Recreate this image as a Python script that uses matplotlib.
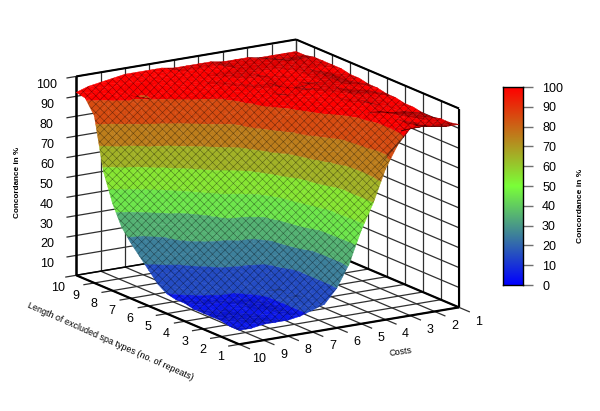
import numpy as np
import matplotlib
matplotlib.use('Agg')
import matplotlib.pyplot as plt
from matplotlib.colors import LinearSegmentedColormap
from mpl_toolkits.mplot3d import proj3d
from mpl_toolkits.mplot3d.art3d import Poly3DCollection

plt.rcParams['font.family'] = ['Liberation Sans', 'DejaVu Sans']
plt.rcParams['hatch.linewidth'] = 0.4

length_ticks = [1, 2, 3, 4, 5, 6, 7, 8, 9, 10]
cost_ticks = [1, 2, 3, 4, 5, 6, 7, 8, 9, 10]
z_ticks = [10, 20, 30, 40, 50, 60, 70, 80, 90, 100]
bar_ticks = [0, 10, 20, 30, 40, 50, 60, 70, 80, 90, 100]

# rows are costs 10 -> 1, columns are length 10 -> 1, half steps
length_vals = [10, 9.5, 9, 8.5, 8, 7.5, 7, 6.5, 6, 5.5, 5, 4.5, 4, 3.5, 3, 2.5, 2, 1.5, 1]
cost_vals = [10, 9.5, 9, 8.5, 8, 7.5, 7, 6.5, 6, 5.5, 5, 4.5, 4, 3.5, 3, 2.5, 2, 1.5, 1]
concordance = [
    [92, 91, 84, 58, 44, 34, 28, 23, 18, 13, 10, 9, 9, 8, 8, 8, 8, 7, 7],
    [94, 93, 88, 74, 52, 38, 30, 25, 21, 17, 12, 10, 9, 9, 8, 8, 8, 8, 7],
    [95, 94, 92, 83, 59, 46, 35, 28, 23, 19, 15, 11, 9, 9, 8, 8, 8, 8, 8],
    [96, 95, 91, 88, 76, 54, 42, 36, 32, 26, 18, 13, 10, 9, 9, 9, 8, 8, 8],
    [97, 95, 89, 90, 82, 65, 52, 38, 34, 30, 23, 17, 10, 9, 9, 9, 9, 9, 8],
    [97, 96, 95, 93, 87, 76, 61, 51, 39, 32, 25, 19, 13, 10, 9, 9, 9, 9, 9],
    [97, 96, 95, 94, 91, 83, 70, 60, 50, 42, 27, 20, 15, 11, 11, 11, 11, 11, 11],
    [97, 96, 95, 94, 92, 88, 79, 67, 55, 45, 28, 22, 16, 11, 12, 12, 13, 13, 13],
    [96, 96, 95, 94, 93, 90, 84, 74, 63, 52, 38, 30, 26, 21, 19, 19, 19, 19, 20],
    [96, 96, 95, 94, 94, 93, 92, 89, 81, 68, 58, 49, 45, 40, 30, 29, 29, 29, 31],
    [96, 96, 95, 95, 94, 94, 93, 92, 91, 87, 70, 63, 58, 54, 50, 49, 48, 47, 47],
    [96, 96, 95, 95, 95, 94, 94, 93, 92, 91, 89, 80, 74, 68, 62, 60, 60, 60, 60],
    [95, 95, 95, 95, 95, 94, 94, 92, 93, 93, 92, 90, 82, 75, 73, 72, 72, 73, 76],
    [95, 95, 95, 95, 94, 93, 92, 94, 95, 94, 93, 92, 90, 87, 85, 84, 81, 81, 87],
    [95, 95, 95, 95, 94, 94, 94, 95, 95, 95, 94, 94, 93, 92, 91, 90, 90, 91, 94],
    [94, 95, 95, 95, 95, 95, 95, 95, 95, 95, 95, 94, 94, 92, 93, 92, 92, 93, 94],
    [94, 94, 95, 95, 95, 95, 95, 95, 95, 94, 94, 93, 92, 90, 92, 92, 91, 91, 93],
    [94, 94, 95, 95, 95, 94, 94, 94, 94, 93, 93, 92, 91, 90, 91, 91, 91, 91, 92],
    [94, 94, 95, 95, 95, 95, 94, 94, 93, 93, 92, 92, 91, 91, 90, 90, 91, 91, 92],
]

W, H = 600, 411
ELEV, AZIM = 15.47, 147.8
BOX = (306, 260, 206.5)

cmap = LinearSegmentedColormap.from_list('conc', [(0, 0, 1), (0.48, 1, 0.22), (1, 0, 0)])
levels = np.arange(0, 101, 10)
band_mid = [5, 15, 25, 35, 45, 55, 65, 75, 85, 100]


def clip_poly(poly, lo, hi):
    # cut one flat polygon down to the part between two heights
    for level, sign in ((lo, 1), (hi, -1)):
        out = []
        for i in range(len(poly)):
            a, b = poly[i], poly[(i + 1) % len(poly)]
            da, db = sign * (a[2] - level), sign * (b[2] - level)
            if da >= 0:
                out.append(a)
            if da * db < 0:
                out.append(a + (b - a) * da / (da - db))
        poly = out
        if len(poly) < 3:
            return []
    return poly


def face_shade(tri):
    # flat and back-tilted faces have denser mesh in the original, so darker
    scale = np.array([BOX[0] / 9, BOX[1] / 9, BOX[2] / 100])
    p = tri * scale
    n = np.cross(p[1] - p[0], p[2] - p[0])
    n = n / np.linalg.norm(n)
    if n[2] < 0:
        n = -n
    el, az = np.radians(ELEV), np.radians(AZIM)
    view = np.array([np.cos(az) * np.cos(el), np.sin(az) * np.cos(el), np.sin(el)])
    return np.clip(0.35 + 0.65 * n.dot(view) / 0.32, 0.4, 1.0)


fig = plt.figure(figsize=(W / 100, H / 100), dpi=100)
# square box centred on the middle of the cube
ax = fig.add_axes([-40.5 / W, -89 / H, 600 / W, 600 / H], projection='3d',
                  proj_type='ortho', computed_zorder=False)
ax.view_init(elev=ELEV, azim=AZIM)
ax.set_box_aspect(BOX, zoom=0.73)
ax.set_xlim(1, 10)
ax.set_ylim(1, 10)
ax.set_zlim(0, 100)
ax.set_axis_off()


def line(xs, ys, zs, lw=0.9, color='#303030', zorder=1):
    ax.plot(xs, ys, zs, color=color, lw=lw, zorder=zorder, solid_capstyle='butt')


def label(x, y, z, s):
    px, py, _ = proj3d.proj_transform(x, y, z, ax.get_proj())
    ax.text2D(px, py, s, transform=ax.transData, fontsize=9, ha='center', va='center', zorder=6)


# back walls and floor
for z in z_ticks:
    line([10, 10], [10.4, 1], [z, z])
    line([10, 1], [1, 1], [z, z])
for c in cost_ticks:
    line([10, 10], [c, c], [0, 100])
    line([10, 0.4], [c, c], [0, 0])
for l in length_ticks:
    line([l, l], [1, 1], [0, 100])
    line([l, l], [1, 10.45], [0, 0])
line([10, 10], [10, 10], [0, 100], lw=1.8, color='black')
line([1, 1], [1, 1], [0, 100], lw=1.5, color='black')
line([10, 10], [10, 1], [100, 100], lw=1.5, color='black')
line([10, 1], [1, 1], [100, 100], lw=1.5, color='black')
line([10, 1], [10, 10], [0, 0], lw=1.6, color='black')
line([1, 1], [10, 1], [0, 0], lw=1.6, color='black')
line([10, 1], [1, 1], [0, 0], lw=1.6, color='black')
line([10, 10], [10, 1], [0, 0], lw=1.1, color='black')

# surface, one colour per 10 % band
polys, cols = [], []
Z = np.array(concordance, dtype=float)
for i in range(len(cost_vals) - 1):
    for j in range(len(length_vals) - 1):
        p = [np.array([length_vals[j + a], cost_vals[i + b], Z[i + b, j + a]])
             for a, b in ((0, 0), (1, 0), (1, 1), (0, 1))]
        for tri in ((p[0], p[1], p[2]), (p[0], p[2], p[3])):
            s = face_shade(np.array(tri))
            for k in range(len(levels) - 1):
                piece = clip_poly(list(tri), levels[k], levels[k + 1])
                if piece:
                    rgb = np.array(cmap(band_mid[k] / 100)[:3]) * s
                    polys.append(piece)
                    cols.append(rgb)

surf = Poly3DCollection(polys, facecolors=cols, edgecolors=cols, linewidths=0.3, zorder=3)
ax.add_collection3d(surf)
mesh = Poly3DCollection(polys, facecolors=(0, 0, 0, 0), edgecolors=(0, 0, 0, 0.45),
                        linewidths=0, hatch='xxxx', zorder=4)
ax.add_collection3d(mesh)

# tick labels
for z in z_ticks:
    label(10, 11.2, z - 2, str(z))
for l in length_ticks:
    label(l, 10.75, -5, str(l))
for c in cost_ticks:
    label(-0.1, c, -3, str(c))

fig.text(110 / W, 1 - 341 / H, 'Length of excluded spa types (no. of repeats)', fontsize=6.4,
         rotation=-23.9, ha='center', va='center', rotation_mode='anchor')
fig.text(401 / W, 1 - 352 / H, 'Costs', fontsize=6.4, rotation=8, ha='center', va='center',
         rotation_mode='anchor')
fig.text(18 / W, 1 - 182 / H, 'Concordance in %', fontsize=5.9, fontweight='bold', rotation=90,
         ha='center', va='center')
fig.text(581 / W, 1 - 206 / H, 'Concordance in %', fontsize=6, fontweight='bold', rotation=90,
         ha='center', va='center')

# colour bar
cax = fig.add_axes([503 / W, 1 - 285 / H, 20 / W, 198 / H])
cax.imshow(np.arange(256).reshape(-1, 1), cmap=cmap, origin='lower', aspect='auto',
           extent=[0, 1, 0, 100])
cax.set_xticks([])
cax.yaxis.tick_right()
cax.set_yticks(bar_ticks)
cax.tick_params(axis='y', length=7.2, width=1.0, color='#707070', labelsize=9, pad=6.5)
for s in cax.spines.values():
    s.set_linewidth(1.0)

plt.savefig('out.png', dpi=100)
